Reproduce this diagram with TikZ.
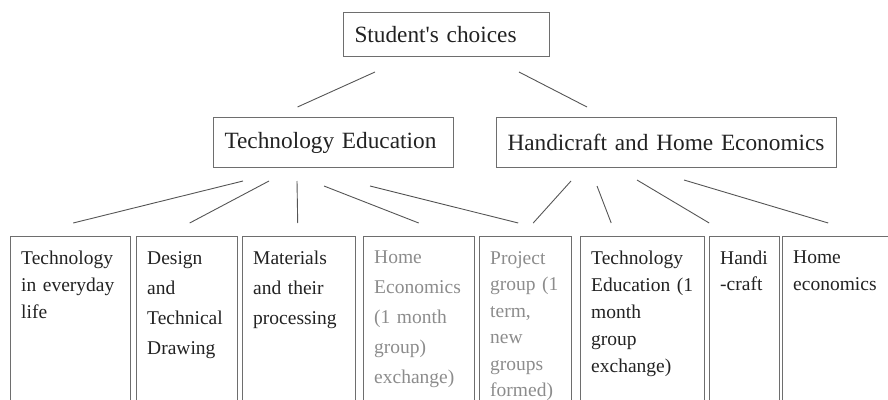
\documentclass[tikz,border=0pt]{standalone}
\usepackage{fontspec}
\setmainfont{Liberation Serif}
\definecolor{ink}{HTML}{222222}
\definecolor{fade}{HTML}{8C8C8C}
\definecolor{framegray}{HTML}{6E6E6E}
\definecolor{linegray}{HTML}{555555}

\begin{document}
\begin{tikzpicture}[x=1pt, y=-1pt,
    head/.style={draw=framegray, line width=1pt, anchor=north west, inner xsep=11pt, inner ysep=0pt,
      align=left, text=ink, font=\fontsize{23.3}{28}\selectfont},
    cell/.style={anchor=north west, inner xsep=11pt, inner ysep=15pt, align=left},
    frame/.style={draw=framegray, line width=1pt},
    link/.style={draw=linegray, line width=0.9pt}]
      \useasboundingbox (0,0) rectangle (888,399);
      \clip (0,0) rectangle (888,399);
      \coordinate (floor) at (0,420);

      \node[head, text width=184pt, minimum height=44pt] (root) at (343,12) {Student\textquotesingle s choices};
      \node[head, text width=218pt, minimum height=50pt] (te) at (213,117) {Technology Education};
      \node[head, text width=318pt, minimum height=50pt] (hhe) at (496,117) {Handicraft and Home Economics};

      \foreach \n/\x/\w/\sk/\col/\txt in {%
          b1/10/120/27/ink/{Technology\\in everyday\\life},
          b2/136/101/30/ink/{Design\\and\\Technical\\Drawing},
          b3/242/113/30/ink/{Materials\\and their\\processing},
          b4/363/111/30/fade/{Home\\Economics\\(1 month\\group)\\exchange)},
          b5/479/92/26.5/fade/{Project\\group (1\\term,\\new\\groups\\formed)},
          b6/580/124/27/ink/{Technology\\Education (1\\month\\group\\exchange)},
          b7/709/70/26/ink/{Handi\\-craft},
          b8/782/120/27/ink/{Home\\economics}}{%
        \pgfmathsetmacro\tw{\w-22}
        \node[cell, text width=\tw pt, text=\col, font=\fontsize{19.5}{\sk}\selectfont] (\n) at (\x,236) {\txt};
        \draw[frame] (\n.north west) rectangle (\n.north east |- floor);
      }

      \draw[link] ([xshift=32pt,yshift=-15pt]root.south west) -- ([xshift=-36pt,yshift=10pt]te.north);
      \draw[link] ([xshift=-31pt,yshift=-15pt]root.south east) -- ([xshift=91pt,yshift=10pt]hhe.north west);

      \foreach \p/\px/\py/\c/\cx in {te/30/13/b1/3, te/56/13/b2/3, te/84/13/b3/-1,
          te/111/18/b4/0, te/157/18/b5/-7, hhe/75/13/b5/8, hhe/101/18/b6/-31,
          hhe/141/12/b7/-35, hhe/188/12/b8/-14}{%
        \draw[link] ([xshift=\px pt,yshift=-\py pt]\p.south west) -- ([xshift=\cx pt,yshift=13pt]\c.north);
      }
    \end{tikzpicture}
\end{document}
